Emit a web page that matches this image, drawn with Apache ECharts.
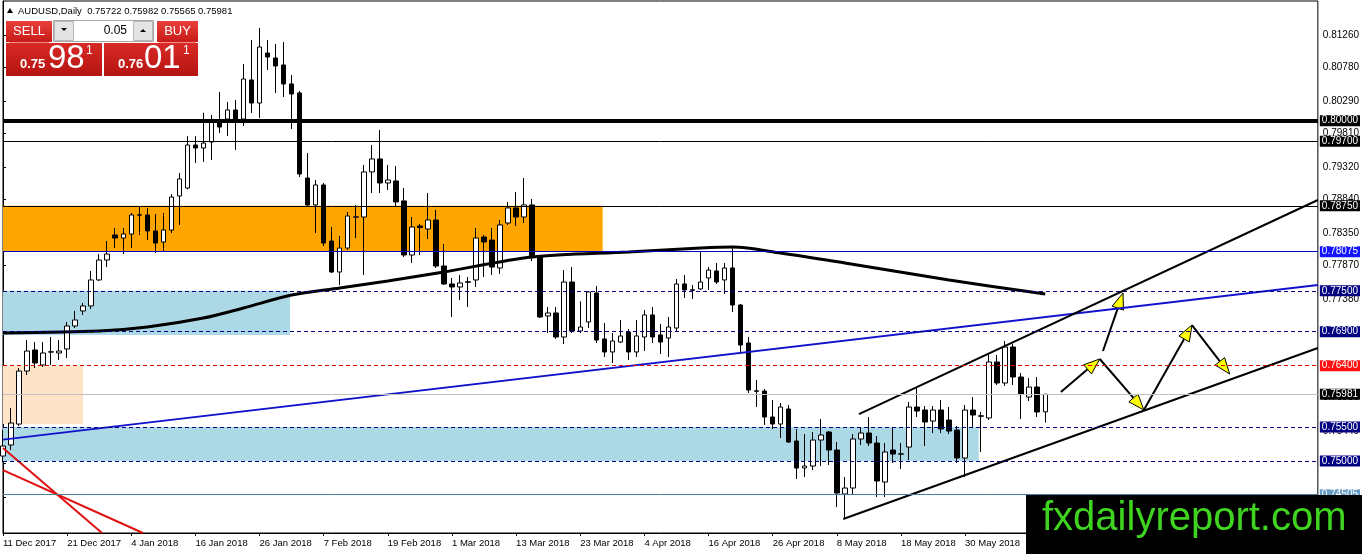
<!DOCTYPE html>
<html>
<head>
<meta charset="utf-8">
<title>AUDUSD Daily</title>
<script src="https://cdn.jsdelivr.net/npm/echarts@6.0.0/dist/echarts.min.js"></script>
<style>
html, body { margin: 0; padding: 0; background: #fff; }
#main { width: 1362px; height: 554px; }
</style>
</head>
<body>
<div id="main"></div>
<script>
// daily bars, 11 Dec 2017 onwards
var opens = [
  0.75073, 0.75235, 0.75543, 0.76322, 0.76631, 0.76411, 0.76600, 0.76587, 0.76646, 0.76984,
  0.77205, 0.77278, 0.77660, 0.77953, 0.78321, 0.78276, 0.78335, 0.78612, 0.78615, 0.78380,
  0.78218, 0.78394, 0.78894, 0.79011, 0.79643, 0.79599, 0.79687, 0.79981, 0.80025, 0.80158,
  0.80025, 0.80599, 0.80260, 0.80995, 0.80922, 0.80819, 0.80540, 0.80408, 0.79158, 0.78762,
  0.79056, 0.78232, 0.77777, 0.78129, 0.78582, 0.78585, 0.79247, 0.79438, 0.79085, 0.79115,
  0.78821, 0.78027, 0.78453, 0.78409, 0.78541, 0.77865, 0.77601, 0.77557, 0.77632, 0.77660,
  0.78291, 0.78247, 0.77836, 0.78497, 0.78718, 0.78585, 0.78762, 0.77997, 0.77131, 0.77175,
  0.76822, 0.77630, 0.76910, 0.77043, 0.77469, 0.76793, 0.76602, 0.76748, 0.76896, 0.76602,
  0.76822, 0.77146, 0.76852, 0.76807, 0.76954, 0.77601, 0.77516, 0.77528, 0.77689, 0.77792,
  0.77660, 0.77836, 0.77292, 0.76734, 0.76031, 0.76028, 0.75646, 0.75543, 0.75764, 0.75294,
  0.74897, 0.74926, 0.75308, 0.75426, 0.75161, 0.74515, 0.74603, 0.75323, 0.75411, 0.75264,
  0.74691, 0.75161, 0.75100, 0.75205, 0.75793, 0.75749, 0.75587, 0.75749, 0.75602, 0.75455,
  0.75044, 0.75749, 0.75664, 0.75632, 0.76455, 0.76146, 0.76675, 0.76234, 0.75940, 0.76087,
  0.75722
];
var closes = [
  0.75220, 0.75558, 0.76322, 0.76616, 0.76440, 0.76587, 0.76605, 0.76616, 0.76984, 0.77072,
  0.77278, 0.77660, 0.77953, 0.78041, 0.78276, 0.78335, 0.78615, 0.78618, 0.78380, 0.78203,
  0.78394, 0.78879, 0.79144, 0.79643, 0.79599, 0.79672, 0.79981, 0.79907, 0.80158, 0.80011,
  0.80613, 0.80260, 0.81083, 0.80936, 0.80804, 0.80540, 0.80393, 0.79217, 0.78762, 0.79056,
  0.78203, 0.77777, 0.78129, 0.78600, 0.78588, 0.79247, 0.79438, 0.79085, 0.79129, 0.78806,
  0.78027, 0.78438, 0.78430, 0.78541, 0.77865, 0.77601, 0.77557, 0.77616, 0.77628, 0.78276,
  0.78218, 0.77850, 0.78468, 0.78718, 0.78585, 0.78762, 0.77997, 0.77116, 0.77175, 0.76822,
  0.77630, 0.76910, 0.76969, 0.77484, 0.76778, 0.76602, 0.76763, 0.76837, 0.76602, 0.76837,
  0.77146, 0.76822, 0.76748, 0.76969, 0.77601, 0.77513, 0.77510, 0.77630, 0.77806, 0.77630,
  0.77836, 0.77292, 0.76704, 0.76043, 0.76025, 0.75646, 0.75543, 0.75793, 0.75279, 0.74897,
  0.74926, 0.75308, 0.75382, 0.75161, 0.74529, 0.74603, 0.75323, 0.75411, 0.75264, 0.74706,
  0.75132, 0.75102, 0.75105, 0.75793, 0.75734, 0.75573, 0.75749, 0.75470, 0.75440, 0.75044,
  0.75749, 0.75676, 0.75658, 0.76455, 0.76146, 0.76675, 0.76234, 0.75984, 0.76087, 0.75720,
  0.75981
];
var lows = [
  0.74985, 0.75161, 0.75514, 0.76263, 0.76366, 0.76381, 0.76411, 0.76484, 0.76513, 0.76954,
  0.77146, 0.77234, 0.77645, 0.77850, 0.78129, 0.78041, 0.78129, 0.78321, 0.78247, 0.78056,
  0.78071, 0.78350, 0.78468, 0.78990, 0.79379, 0.79394, 0.79423, 0.79819, 0.79774, 0.79570,
  0.79923, 0.80114, 0.80040, 0.80745, 0.80407, 0.80349, 0.79878, 0.79173, 0.78732, 0.78350,
  0.78159, 0.77762, 0.77586, 0.78100, 0.78276, 0.77733, 0.78938, 0.78938, 0.78982, 0.78747,
  0.77997, 0.77909, 0.78027, 0.78262, 0.77836, 0.77586, 0.77116, 0.77366, 0.77263, 0.77557,
  0.77704, 0.77733, 0.77748, 0.78468, 0.78453, 0.78497, 0.77938, 0.77101, 0.76881, 0.76793,
  0.76719, 0.76881, 0.76881, 0.76954, 0.76734, 0.76528, 0.76440, 0.76734, 0.76484, 0.76528,
  0.76616, 0.76734, 0.76572, 0.76528, 0.76910, 0.77395, 0.77381, 0.77513, 0.77513, 0.77601,
  0.77454, 0.77189, 0.76572, 0.75999, 0.75793, 0.75529, 0.75470, 0.75338, 0.75264, 0.74735,
  0.74764, 0.74867, 0.74926, 0.74941, 0.74323, 0.74147, 0.74500, 0.75235, 0.75220, 0.74471,
  0.74471, 0.74970, 0.74882, 0.75014, 0.75646, 0.75220, 0.75411, 0.75411, 0.75396, 0.74970,
  0.74764, 0.75499, 0.75132, 0.75602, 0.76117, 0.76102, 0.76117, 0.75617, 0.75881, 0.75646,
  0.75565
];
var highs = [
  0.75455, 0.75778, 0.76366, 0.76778, 0.76748, 0.76748, 0.76822, 0.76778, 0.77043, 0.77205,
  0.77322, 0.77792, 0.78041, 0.78232, 0.78424, 0.78424, 0.78644, 0.78747, 0.78718, 0.78629,
  0.78644, 0.78923, 0.79232, 0.79774, 0.79774, 0.80118, 0.80085, 0.80423, 0.80276, 0.80305,
  0.80834, 0.81186, 0.81363, 0.81186, 0.81127, 0.81157, 0.80672, 0.80437, 0.79526, 0.79129,
  0.79085, 0.78438, 0.78306, 0.78659, 0.78762, 0.79350, 0.79643, 0.79864, 0.79350, 0.79335,
  0.79011, 0.78585, 0.78482, 0.78938, 0.78688, 0.78188, 0.77689, 0.77733, 0.77704, 0.78424,
  0.78321, 0.78424, 0.78541, 0.78806, 0.78953, 0.79158, 0.78850, 0.78027, 0.77263, 0.77263,
  0.77806, 0.77850, 0.77344, 0.77498, 0.77572, 0.77028, 0.76881, 0.77072, 0.76940, 0.77072,
  0.77219, 0.77263, 0.77014, 0.77116, 0.77674, 0.77733, 0.77586, 0.78086, 0.77850, 0.77909,
  0.77909, 0.78129, 0.77307, 0.76822, 0.76190, 0.76058, 0.75896, 0.75852, 0.75823, 0.75470,
  0.75396, 0.75426, 0.75617, 0.75440, 0.75279, 0.74764, 0.75396, 0.75499, 0.75646, 0.75367,
  0.75264, 0.75499, 0.75264, 0.75867, 0.76073, 0.75808, 0.75808, 0.75896, 0.75793, 0.75514,
  0.75823, 0.75940, 0.75720, 0.76558, 0.76558, 0.76763, 0.76719, 0.76293, 0.76219, 0.76234,
  0.75982
];

// moving average, sampled at a few bars
var maBars = [0, 12, 18, 25, 30, 36, 42, 48, 55, 66, 78, 87, 91, 97, 105, 118, 130];
var maValues = [0.76881, 0.76910, 0.76969, 0.77101, 0.77248, 0.77439, 0.77542, 0.77645, 0.77777,
  0.77997, 0.78071, 0.78129, 0.78144, 0.78056, 0.77909, 0.77660, 0.77454];

// horizontal levels on the price scale
var levelValues = [0.80000, 0.79700, 0.78750, 0.78075, 0.77500, 0.76900, 0.76400, 0.75981, 0.75500, 0.75000, 0.74505];

// right axis tick labels
var yTickValues = [0.81260, 0.80780, 0.80290, 0.79810, 0.79320, 0.78840, 0.78350, 0.77870, 0.77380,
  0.76900, 0.76410, 0.75930, 0.75440, 0.74960, 0.74470];

// zones: [bar from, bar to, price top, price bottom]
var zoneOrange = [0, 74.8, 0.78750, 0.78075];
var zoneBlueTop = [0, 35.8, 0.77500, 0.76851];
var zonePeach = [0, 10, 0.76400, 0.75543];
var zoneBlueLow = [0, 121.7, 0.75500, 0.75000];

// trendlines: [bar, price] pairs
var blueTrend = [[0, 0.75314], [164, 0.77586]];
var redTrendA = [[0, 0.74867], [17.46, 0.73942]];
var redTrendB = [[0, 0.75191], [12.35, 0.73942]];
var channelUpper = [[106.76, 0.75690], [164, 0.78835]];
var channelLower = [[104.8, 0.74147], [164, 0.76660]];

// projected path arrows: [bar0, price0, bar1, price1]
var arrows = [
  [131.95, 0.76014, 136.8, 0.76499],
  [136.8, 0.76499, 142.3, 0.75749],
  [137.2, 0.76616, 139.7, 0.77468],
  [142.3, 0.75749, 148.3, 0.76998],
  [148.3, 0.76998, 153.0, 0.76278]
];

var slots = 165;
var months = ['Jan', 'Feb', 'Mar', 'Apr', 'May', 'Jun', 'Jul', 'Aug', 'Sep', 'Oct', 'Nov', 'Dec'];
var categories = [];
var d = new Date(Date.UTC(2017, 11, 11));
while (categories.length < opens.length) {
    var wd = d.getUTCDay(), m = d.getUTCMonth(), day = d.getUTCDate();
    var holiday = (m === 11 && day === 25) || (m === 0 && day === 1);
    if (wd !== 0 && wd !== 6 && !holiday) {
        categories.push(day + ' ' + months[m] + ' ' + d.getUTCFullYear());
    }
    d.setUTCDate(day + 1);
}
while (categories.length < slots) categories.push('');

var candleData = opens.map(function (o, i) {
    return [o, closes[i], lows[i], highs[i]];
});

var navy = '#000080';
var levelStyles = [
    { line: { color: '#000', width: 4, type: 'solid' }, tag: '#000' },
    { line: { color: '#000', width: 1, type: 'solid' }, tag: '#000' },
    { line: { color: '#000', width: 1, type: 'solid' }, tag: '#000' },
    { line: { color: '#0000c8', width: 1, type: 'solid' }, tag: '#1414ff' },
    { line: { color: navy, width: 1, type: [4, 3] }, tag: navy },
    { line: { color: navy, width: 1, type: [4, 3] }, tag: navy },
    { line: { color: '#e00000', width: 1, type: [4, 3] }, tag: '#ff1010' },
    { line: { color: '#c0c0c0', width: 1, type: 'solid' }, tag: '#000' },
    { line: { color: navy, width: 1, type: [4, 3] }, tag: navy },
    { line: { color: navy, width: 1, type: [4, 3] }, tag: navy },
    { line: { color: '#4a7f9e', width: 1, type: 'solid' }, tag: '#6a9ec4' }
];

function zone(z, color) {
    return [{ xAxis: z[0], yAxis: z[2], itemStyle: { color: color } }, { xAxis: z[1], yAxis: z[3] }];
}

function trend(points, color, width) {
    return {
        type: 'line',
        xAxisIndex: 1,
        data: points,
        symbol: 'none',
        silent: true,
        lineStyle: { color: color, width: width }
    };
}

var chart = echarts.init(document.getElementById('main'));

var option = {
    animation: false,
    backgroundColor: '#fff',
    textStyle: { fontFamily: 'Liberation Sans' },
    grid: { left: 3, right: 44, top: 1, bottom: 21, show: true, borderColor: '#000', borderWidth: 1 },
    xAxis: [{
        type: 'category',
        data: categories,
        boundaryGap: false,
        axisLine: { lineStyle: { color: '#000' } },
        axisTick: { interval: 7, length: 3, lineStyle: { color: '#000' } },
        axisLabel: { interval: 7, align: 'left', color: '#000', fontSize: 9.5, margin: 5 },
        splitLine: { show: false }
    }, {
        type: 'value',
        min: 0,
        max: slots - 1,
        show: false
    }],
    yAxis: {
        type: 'value',
        position: 'right',
        min: 0.73942,
        max: 0.81759,
        axisLine: { show: true, lineStyle: { color: '#000' } },
        axisTick: { show: true, customValues: yTickValues, length: 3, lineStyle: { color: '#000' } },
        axisLabel: {
            customValues: yTickValues,
            color: '#000',
            fontSize: 10,
            margin: 5,
            formatter: function (v) { return v.toFixed(5); }
        },
        splitLine: { show: false }
    },
    series: [{
        type: 'candlestick',
        data: candleData,
        barWidth: 5,
        silent: true,
        itemStyle: {
            color: '#fff', color0: '#000',
            borderColor: '#000', borderColor0: '#000',
            borderWidth: 1
        },
        markLine: {
            silent: true,
            precision: 5,
            symbol: ['none', 'none'],
            data: levelValues.map(function (v, i) {
                return {
                    yAxis: v,
                    lineStyle: levelStyles[i].line,
                    label: {
                        show: true,
                        position: 'end',
                        distance: 2,
                        formatter: v.toFixed(5),
                        color: '#fff',
                        fontSize: 10,
                        backgroundColor: levelStyles[i].tag,
                        padding: [1, 2, 0, 2]
                    }
                };
            })
        }
    },
    {
        type: 'line',
        xAxisIndex: 1,
        data: maBars.map(function (b, i) { return [b, maValues[i]]; }),
        smooth: 0.3,
        symbol: 'none',
        silent: true,
        lineStyle: { color: '#000', width: 3 }
    },
    Object.assign(trend(blueTrend, '#1212cc', 2), {
        markArea: {
            silent: true,
            precision: 5,
            data: [
                zone(zoneOrange, '#ffa500'),
                zone(zoneBlueTop, '#add8e6'),
                zone(zonePeach, '#fde4c8'),
                zone(zoneBlueLow, '#add8e6')
            ]
        }
    }),
    trend(redTrendA, '#e01010', 2),
    trend(redTrendB, '#e01010', 2),
    trend(channelUpper, '#000', 2),
    trend(channelLower, '#000', 2),
    {
        type: 'custom',
        xAxisIndex: 1,
        silent: true,
        data: arrows,
        renderItem: function (params, api) {
            var p0 = api.coord([api.value(0), api.value(1)]);
            var p1 = api.coord([api.value(2), api.value(3)]);
            var dx = p1[0] - p0[0], dy = p1[1] - p0[1];
            var len = Math.sqrt(dx * dx + dy * dy);
            var ux = dx / len, uy = dy / len;
            var hl = 16, hw = 6;
            var bx = p1[0] - ux * hl, by = p1[1] - uy * hl;
            return {
                type: 'group',
                children: [{
                    type: 'line',
                    shape: { x1: p0[0], y1: p0[1], x2: bx, y2: by },
                    style: { stroke: '#000', lineWidth: 2 }
                }, {
                    type: 'polygon',
                    shape: { points: [[p1[0], p1[1]], [bx - uy * hw, by + ux * hw], [bx + uy * hw, by - ux * hw]] },
                    style: { fill: '#ffff00', stroke: '#000', lineWidth: 1 }
                }]
            };
        }
    }],
    graphic: [
        // symbol header
        { type: 'polygon', shape: { points: [[7, 13], [13, 13], [10, 8]] }, style: { fill: '#000' }, z: 50 },
        { type: 'text', x: 18, y: 11, z: 50, style: { text: 'AUDUSD,Daily  0.75722 0.75982 0.75565 0.75981', font: '9.5px "Liberation Sans"', fill: '#000', verticalAlign: 'middle' } },
        // one-click trading panel
        { type: 'rect', z: 50, shape: { x: 6, y: 21, width: 46, height: 21 }, style: { fill: new echarts.graphic.LinearGradient(0, 0, 0, 1, [{ offset: 0, color: '#e8413c' }, { offset: 1, color: '#c81b17' }]) } },
        { type: 'text', z: 51, x: 29, y: 31.5, style: { text: 'SELL', font: '13px "Liberation Sans"', fill: '#fff', align: 'center', verticalAlign: 'middle' } },
        { type: 'rect', z: 50, shape: { x: 157, y: 21, width: 41, height: 21 }, style: { fill: new echarts.graphic.LinearGradient(0, 0, 0, 1, [{ offset: 0, color: '#e8413c' }, { offset: 1, color: '#c81b17' }]) } },
        { type: 'text', z: 51, x: 177.5, y: 31.5, style: { text: 'BUY', font: '13px "Liberation Sans"', fill: '#fff', align: 'center', verticalAlign: 'middle' } },
        { type: 'rect', z: 50, shape: { x: 6, y: 43, width: 96, height: 33 }, style: { fill: new echarts.graphic.LinearGradient(0, 0, 0, 1, [{ offset: 0, color: '#d82a26' }, { offset: 1, color: '#b51411' }]) } },
        { type: 'rect', z: 50, shape: { x: 104, y: 43, width: 94, height: 33 }, style: { fill: new echarts.graphic.LinearGradient(0, 0, 0, 1, [{ offset: 0, color: '#d82a26' }, { offset: 1, color: '#b51411' }]) } },
        { type: 'line', z: 51, shape: { x1: 9, y1: 42.5, x2: 49, y2: 42.5 }, style: { stroke: '#f28f8c', lineWidth: 1 } },
        { type: 'line', z: 51, shape: { x1: 159, y1: 42.5, x2: 196, y2: 42.5 }, style: { stroke: '#f28f8c', lineWidth: 1 } },
        { type: 'text', z: 51, x: 20, y: 64, style: { text: '0.75', font: 'bold 13px "Liberation Sans"', fill: '#fff', verticalAlign: 'middle' } },
        { type: 'text', z: 51, x: 48, y: 58.5, style: { text: '98', font: '33px "Liberation Sans"', fill: '#fff', verticalAlign: 'middle' } },
        { type: 'text', z: 51, x: 86, y: 51, style: { text: '1', font: '12px "Liberation Sans"', fill: '#fff', verticalAlign: 'middle' } },
        { type: 'text', z: 51, x: 118, y: 64, style: { text: '0.76', font: 'bold 13px "Liberation Sans"', fill: '#fff', verticalAlign: 'middle' } },
        { type: 'text', z: 51, x: 144, y: 58.5, style: { text: '01', font: '33px "Liberation Sans"', fill: '#fff', verticalAlign: 'middle' } },
        { type: 'text', z: 51, x: 183, y: 51, style: { text: '1', font: '12px "Liberation Sans"', fill: '#fff', verticalAlign: 'middle' } },
        { type: 'rect', z: 50, shape: { x: 53.5, y: 20.5, width: 100, height: 21 }, style: { fill: '#fff', stroke: '#a8a8a8' } },
        { type: 'rect', z: 51, shape: { x: 54.5, y: 21.5, width: 19, height: 19 }, style: { fill: '#e4e4e4', stroke: '#b8b8b8' } },
        { type: 'rect', z: 51, shape: { x: 133.5, y: 21.5, width: 19, height: 19 }, style: { fill: '#e4e4e4', stroke: '#b8b8b8' } },
        { type: 'polygon', z: 52, shape: { points: [[61, 28], [67, 28], [64, 31]] }, style: { fill: '#000' } },
        { type: 'polygon', z: 52, shape: { points: [[140, 32], [146, 32], [143, 29]] }, style: { fill: '#000' } },
        { type: 'text', z: 52, x: 127, y: 30.5, style: { text: '0.05', font: '12px "Liberation Sans"', fill: '#000', align: 'right', verticalAlign: 'middle' } },
        // watermark
        { type: 'rect', z: 100, shape: { x: 1026, y: 495, width: 336, height: 59 }, style: { fill: '#000' } },
        { type: 'text', z: 101, x: 1042, y: 519, style: { text: 'fxdailyreport.com', font: '40px "Liberation Sans"', fill: '#3fd41f', verticalAlign: 'middle' } }
    ]
};

chart.setOption(option);
</script>
</body>
</html>
